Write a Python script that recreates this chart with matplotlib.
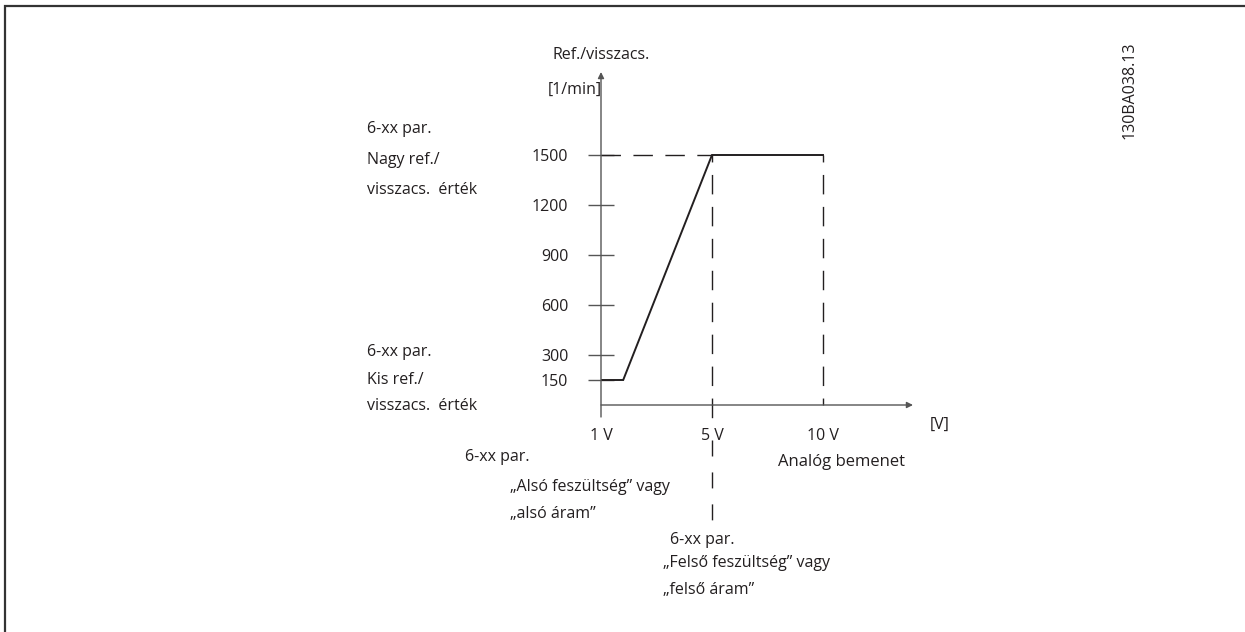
import numpy as np
import matplotlib
matplotlib.use("Agg")
import matplotlib.pyplot as plt
from matplotlib.patches import Rectangle

plt.rcParams['font.family'] = ['Open Sans', 'DejaVu Sans']
plt.rcParams['font.size'] = 11.5

# adatok (schematic: analog input -> reference / feedback)
volts = [1, 1.8, 5, 10]          # bemenet [V]
speed = [150, 150, 1500, 1500]   # ref./visszacs. [1/min]
y_ticks = [150, 300, 600, 900, 1200, 1500]
x_ticks = [1, 5, 10]
x_tick_labels = ["1 V", "5 V", "10 V"]

W, H = 1245, 632
ink = "#231f20"


def fwd(v):
    # the x axis of the drawing is not linear: 1-5 V wider than 5-10 V
    v = np.asarray(v, dtype=float)
    return np.where(v < 5, (v - 1) * 27.75, 111 + (v - 5) * 22.2)


def inv(u):
    u = np.asarray(u, dtype=float)
    return np.where(u < 111, u / 27.75 + 1, 5 + (u - 111) / 22.2)


def px(x, y):
    return x / W, 1 - y / H


fig = plt.figure(figsize=(W / 100, H / 100), dpi=100)
# axes: origin at pixel (601, 405), y axis reaching up to 72, down to 417
ax = fig.add_axes([601 / W, (H - 417) / H, (913 - 601) / W, (417 - 72) / H])
ax.set_xscale('function', functions=(fwd, inv))
ax.set_xlim(1, float(inv(312)))
ax.set_ylim(-72, 1998)
for s in ax.spines.values():
    s.set_visible(False)
ax.patch.set_visible(False)

# tengelyek nyilakkal
arrow = dict(arrowstyle='-|>', lw=1.0, color="#555555", mutation_scale=9,
             shrinkA=0, shrinkB=0)
ax.annotate('', xy=(0, 1), xytext=(0, 0), xycoords='axes fraction', arrowprops=arrow)
ax.annotate('', xy=(1, 0), xytext=(0, 0), xycoords=ax.get_yaxis_transform(),
            arrowprops=arrow)

ax.set_yticks(y_ticks)
ax.set_yticklabels([str(t) for t in y_ticks])
ax.tick_params(axis='y', direction='inout', length=19, width=1.0,
               color="#555555", pad=14, labelcolor=ink, labelsize=11.5)
ax.set_xticks(x_ticks)
ax.set_xticklabels(x_tick_labels)
ax.tick_params(axis='x', length=0, pad=8, labelcolor=ink, labelsize=11.5)

# segédvonalak (szaggatott)
dash = dict(color=ink, lw=1.0, clip_on=False)
ax.plot([volts[0], volts[2]], [speed[2], speed[2]], ls=(0, (14, 9)), **dash)
ax.plot([volts[2], volts[2]], [speed[2], 0], ls=(9, (14, 9)), **dash)
ax.plot([volts[3], volts[3]], [speed[3], 0], ls=(9, (14, 9)), **dash)
# 5 V leader below the axis, broken around the "5 V" label
ax.plot([volts[2], volts[2]], [0, -72], **dash)
ax.plot([volts[2], volts[2]], [-210, -690], ls=(0, (11.5, 11.5)), **dash)

# jelleggörbe
ax.plot(volts, speed, color=ink, lw=1.4, solid_joinstyle='miter')

# feliratok
def label(x, y, s, **kw):
    fig.text(*px(x, y), s, va='center', ha=kw.pop('ha', 'left'), color=ink, **kw)

label(553, 55, "Ref./visszacs.")
label(548, 90, "[1/min]")
label(367, 129, "6-xx par.")
label(367, 160, "Nagy ref./")
label(367, 190, "visszacs.  érték")
label(367, 352, "6-xx par.")
label(367, 380, "Kis ref./")
label(367, 406, "visszacs.  érték")
label(930, 425, "[V]")
label(778, 462, "Analóg bemenet", fontsize=12)
label(465, 457, "6-xx par.")
label(510, 487, "\u201eAlsó feszültség\u201d vagy")
label(510, 514, "\u201ealsó áram\u201d")
label(670, 540, "6-xx par.")
label(663, 563, "\u201eFelső feszültség\u201d vagy")
label(663, 590, "\u201efelső áram\u201d")
label(1130, 90, "130BA038.13", ha='center', rotation=90)

# keret (csak bal és felső él látszik)
fig.add_artist(Rectangle(px(5, 700), 2, (700 - 6) / H, transform=fig.transFigure,
                         fill=False, edgecolor="#333333", lw=1.6))

fig.savefig("out.png", dpi=100)
